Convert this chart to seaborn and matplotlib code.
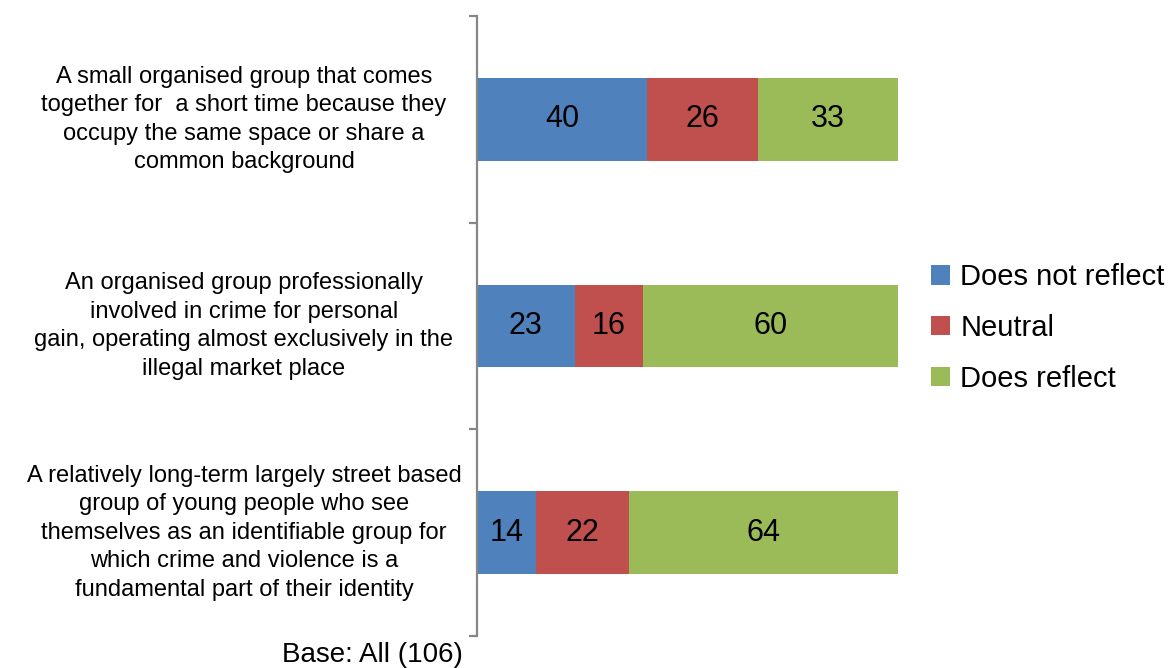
import matplotlib
matplotlib.use("Agg")
import matplotlib.pyplot as plt
import matplotlib.transforms as mtransforms
from matplotlib.patches import Patch
import seaborn as sns
import pandas as pd
import numpy as np

categories = [
    "A small organised group that comes\ntogether for  a short time because they\noccupy the same space or share a\ncommon background",
    "An organised group professionally\ninvolved in crime for personal\ngain, operating almost exclusively in the\nillegal market place",
    "A relatively long-term largely street based\ngroup of young people who see\nthemselves as an identifiable group for\nwhich crime and violence is a\nfundamental part of their identity",
]
does_not_reflect = [40, 23, 14]
neutral = [26, 16, 22]
does_reflect = [33, 60, 64]
series_names = ["Does not reflect", "Neutral", "Does reflect"]
colors = ["#4F81BD", "#C0504D", "#9BBB59"]

sns.set_theme(style="white")
plt.rcParams["font.family"] = ["Liberation Sans", "DejaVu Sans"]
plt.rcParams["text.color"] = "black"

df = pd.DataFrame({"cat": categories, "a": does_not_reflect, "b": neutral, "c": does_reflect})
tot = df[["a", "b", "c"]].sum(axis=1)
pa = df["a"] / tot * 100
pb = df["b"] / tot * 100
pc = df["c"] / tot * 100
cum1 = pa
cum2 = pa + pb
cum3 = pa + pb + pc

fig = plt.figure(figsize=(11.76, 6.68), dpi=100)
ax = fig.add_axes([477 / 1176, 1 - 636 / 668, (898 - 477) / 1176, (636 - 16) / 668])

for vals, col in [(cum3, colors[2]), (cum2, colors[1]), (cum1, colors[0])]:
    sns.barplot(x=vals.values, y=df["cat"], orient="h", color=col, width=0.4,
                saturation=1, ax=ax, linewidth=0)

ax.set_xlim(0, 100)
ax.set_ylim(2.5, -0.5)
ax.set_xlabel("")
ax.set_ylabel("")
ax.set_xticks([])
ax.set_yticks([])
ax.set_yticks([-0.5, 0.5, 1.5, 2.5], minor=True)
ax.tick_params(axis="y", which="minor", length=6, width=1.6, color="#868686", direction="out", left=True)
for s in ["top", "right", "bottom"]:
    ax.spines[s].set_visible(False)
ax.spines["left"].set_color("#868686")
ax.spines["left"].set_linewidth(1.6)

# data labels
starts = [np.zeros(3), cum1.values, cum2.values]
widths = [pa.values, pb.values, pc.values]
raw = [does_not_reflect, neutral, does_reflect]
for st, w, r in zip(starts, widths, raw):
    for i in range(3):
        ax.text(st[i] + w[i] / 2, i, str(r[i]), ha="center", va="center",
                fontsize=22, color="black")

# category labels
trans = mtransforms.blended_transform_factory(fig.transFigure, ax.transData)
for i, c in enumerate(categories):
    ax.text(244 / 1176, i, c, transform=trans, ha="center", va="center",
            fontsize=17, linespacing=1.38, color="black", multialignment="center")

handles = [Patch(facecolor=colors[k], edgecolor="none", label=series_names[k]) for k in range(3)]
leg = fig.legend(handles=handles, loc="center left", bbox_to_anchor=(931 / 1176, 1 - 328 / 668),
                 frameon=False, fontsize=21, handlelength=0.65, handleheight=0.65,
                 handletextpad=0.35, labelspacing=0.78, borderaxespad=0, borderpad=0)
for t in leg.get_texts():
    t.set_color("black")

fig.text(463 / 1176, 1 - 655 / 668, "Base: All (106)", ha="right", va="center", fontsize=20, color="black")

fig.savefig("out.png", dpi=100)
